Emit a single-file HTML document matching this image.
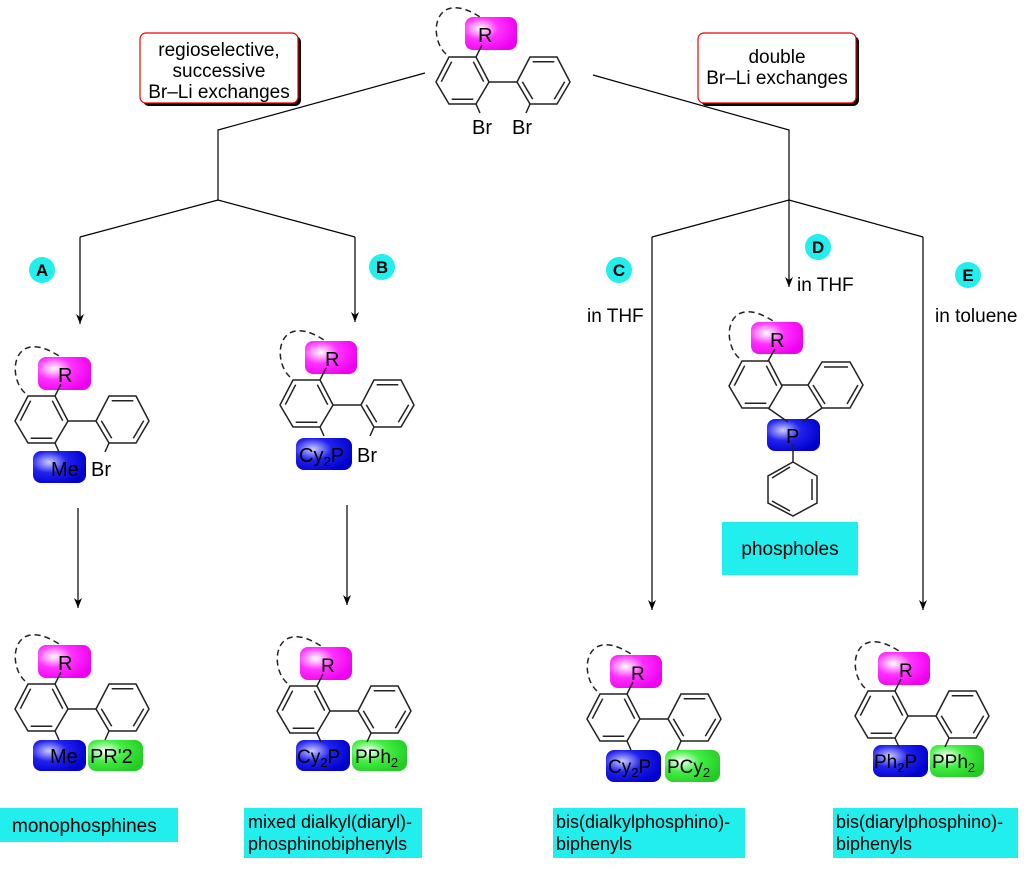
<!DOCTYPE html>
<html><head><meta charset="utf-8"><style>
body{margin:0;background:#fff;}
svg{display:block;font-family:"Liberation Sans",sans-serif;}
</style></head><body>
<svg width="1024" height="870" viewBox="0 0 1024 870" xmlns="http://www.w3.org/2000/svg">
<defs>
<radialGradient id="gm" cx="0.3" cy="0.35" r="0.75"><stop offset="0" stop-color="#ffffff"/><stop offset="0.45" stop-color="#ff33ff"/><stop offset="1" stop-color="#ee00ee"/></radialGradient>
<radialGradient id="gb" cx="0.3" cy="0.35" r="0.75"><stop offset="0" stop-color="#ccccff"/><stop offset="0.45" stop-color="#2222ee"/><stop offset="1" stop-color="#0000cc"/></radialGradient>
<radialGradient id="gg" cx="0.3" cy="0.35" r="0.75"><stop offset="0" stop-color="#ffffff"/><stop offset="0.45" stop-color="#44ee44"/><stop offset="1" stop-color="#22cc22"/></radialGradient>
<marker id="ar" markerWidth="10" markerHeight="8" refX="10" refY="4" orient="auto" markerUnits="userSpaceOnUse" viewBox="0 0 10 8"><path d="M0,0 L10,4 L0,8 L3,4 Z" fill="#000"/></marker>
<g id="bip" fill="none" stroke="#222" stroke-width="1.5">
<polygon points="0,0 27,0 40,25 27,47 0,47 -13,25"/>
<line x1="-7.7" y1="24.7" x2="2.7" y2="4.7"/><line x1="24.3" y1="4.7" x2="34.7" y2="24.7"/><line x1="24.3" y1="42.3" x2="2.7" y2="42.3"/>
<polygon points="68,25 81,0 108,0 121,25 108,47 81,47"/>
<line x1="83.7" y1="4.7" x2="105.3" y2="4.7"/><line x1="115.7" y1="24.7" x2="105.3" y2="42.3"/><line x1="83.7" y1="42.3" x2="73.3" y2="24.7"/>
<line x1="40" y1="25" x2="68" y2="25"/>
<line x1="27" y1="0" x2="33" y2="-12"/>
<line x1="27" y1="47" x2="31" y2="56"/>
<line x1="81" y1="47" x2="77" y2="56"/>
<path d="M-3,-3 C-22,-20 -15,-72 34,-38" stroke-dasharray="6,4"/>
</g>
<g id="ring" fill="none" stroke="#222" stroke-width="1.5">
<polygon points="0,0 27,0 40,25 27,47 0,47 -13,25"/>
<line x1="-7.7" y1="24.7" x2="2.7" y2="4.7"/><line x1="24.3" y1="4.7" x2="34.7" y2="24.7"/><line x1="24.3" y1="42.3" x2="2.7" y2="42.3"/>
</g>
</defs>
<g stroke="#000" stroke-width="1.2" fill="none">
<polyline points="425,73 218,130 218,200"/>
<polyline points="80,237 218,200 355,237"/>
<line x1="80" y1="237" x2="80" y2="324" marker-end="url(#ar)"/>
<line x1="355" y1="237" x2="355" y2="322" marker-end="url(#ar)"/>
<polyline points="593,75 789,130 789,200"/>
<polyline points="652,237 789,200 923,237"/>
<line x1="789" y1="200" x2="789" y2="287" marker-end="url(#ar)"/>
<line x1="652" y1="237" x2="652" y2="610" marker-end="url(#ar)"/>
<line x1="923" y1="237" x2="923" y2="610" marker-end="url(#ar)"/>
<line x1="78" y1="508" x2="78" y2="608" marker-end="url(#ar)"/>
<line x1="347" y1="505" x2="347" y2="605" marker-end="url(#ar)"/>
</g>
<rect x="143" y="36" width="158" height="70" rx="6" fill="#000"/>
<rect x="140" y="33" width="158" height="70" rx="6" fill="#fff" stroke="#e00" stroke-width="1.2"/>
<text x="219" y="56" font-size="19" text-anchor="middle">regioselective,</text>
<text x="219" y="77" font-size="19" text-anchor="middle">successive</text>
<text x="219" y="98" font-size="19" text-anchor="middle">Br–Li exchanges</text>
<rect x="701" y="36" width="158" height="70" rx="6" fill="#000"/>
<rect x="698" y="33" width="158" height="70" rx="6" fill="#fff" stroke="#e00" stroke-width="1.2"/>
<text x="777" y="63" font-size="19" text-anchor="middle">double</text>
<text x="777" y="84" font-size="19" text-anchor="middle">Br–Li exchanges</text>
<g font-size="17" font-weight="bold" text-anchor="middle">
<circle cx="42" cy="270" r="13" fill="#22eeee"/><text x="42" y="276">A</text>
<circle cx="382" cy="267" r="13" fill="#22eeee"/><text x="382" y="273">B</text>
<circle cx="619" cy="270" r="13" fill="#22eeee"/><text x="619" y="276">C</text>
<circle cx="818" cy="247" r="13" fill="#22eeee"/><text x="818" y="253">D</text>
<circle cx="968" cy="275" r="13" fill="#22eeee"/><text x="968" y="281">E</text>
</g>
<g font-size="19">
<text x="587" y="322">in THF</text>
<text x="797" y="291">in THF</text>
<text x="935" y="322">in toluene</text>
</g>
<rect x="465" y="17" width="52" height="33" rx="8" fill="url(#gm)"/>
<use href="#bip" x="449" y="57"/>
<g font-size="20"><text x="478" y="42">R</text><text x="472" y="134">Br</text><text x="512" y="134">Br</text></g>
<rect x="38" y="357" width="53" height="33" rx="8" fill="url(#gm)"/>
<rect x="33" y="451" width="53" height="32" rx="8" fill="url(#gb)"/>
<use href="#bip" x="28" y="396"/>
<g font-size="20"><text x="58" y="382">R</text><text x="51" y="476">Me</text><text x="91" y="476">Br</text></g>
<rect x="305" y="341" width="52" height="33" rx="8" fill="url(#gm)"/>
<rect x="296" y="438" width="56" height="32" rx="8" fill="url(#gb)"/>
<use href="#bip" x="293" y="380"/>
<g font-size="20"><text x="325" y="366">R</text><text x="299" y="462">Cy<tspan font-size="13" dy="4">2</tspan><tspan dy="-4">P</tspan></text><text x="357" y="462">Br</text></g>
<rect x="751" y="322" width="52" height="32" rx="8" fill="url(#gm)"/>
<rect x="767" y="419" width="53" height="32" rx="8" fill="url(#gb)"/>
<g fill="none" stroke="#222" stroke-width="1.5">
<use href="#ring" x="742" y="361"/>
<polygon points="808,385 822,362 850,362 863,385 850,408 822,408"/>
<line x1="824" y1="367" x2="848" y2="367"/><line x1="858" y1="385" x2="847" y2="404"/><line x1="825" y1="404" x2="813" y2="385"/>
<line x1="782" y1="385" x2="808" y2="385"/>
<line x1="768" y1="408" x2="788" y2="422"/><line x1="822" y1="408" x2="802" y2="422"/>
<line x1="768" y1="361" x2="775" y2="349"/>
<line x1="793" y1="444" x2="793" y2="462"/>
<polygon points="793,462 817,476 817,503 793,516 768,503 768,476"/>
<line x1="812" y1="479" x2="812" y2="500"/><line x1="790" y1="511" x2="772" y2="501"/><line x1="772" y1="478" x2="790" y2="467"/>
<path d="M739,358 C720,341 727,289 776,323" stroke-dasharray="6,4"/>
</g>
<g font-size="20"><text x="770" y="347">R</text><text x="786" y="443">P</text></g>
<rect x="722" y="522" width="136" height="53" fill="#22eeee"/>
<text x="790" y="555" font-size="19" text-anchor="middle">phospholes</text>
<rect x="38" y="645" width="53" height="33" rx="8" fill="url(#gm)"/>
<rect x="33" y="740" width="53" height="31" rx="8" fill="url(#gb)"/>
<rect x="88" y="740" width="55" height="31" rx="8" fill="url(#gg)"/>
<use href="#bip" x="28" y="684"/>
<g font-size="20"><text x="58" y="670">R</text><text x="50" y="763">Me</text><text x="90" y="763">PR'2</text></g>
<rect x="300" y="647" width="52" height="33" rx="8" fill="url(#gm)"/>
<rect x="296" y="740" width="54" height="31" rx="8" fill="url(#gb)"/>
<rect x="352" y="740" width="55" height="31" rx="8" fill="url(#gg)"/>
<use href="#bip" x="290" y="686"/>
<g font-size="19"><text x="321" y="672">R</text><text x="297" y="763">Cy<tspan font-size="13" dy="4">2</tspan><tspan dy="-4">P</tspan></text><text x="355" y="763">PPh<tspan font-size="13" dy="4">2</tspan></text></g>
<rect x="610" y="655" width="52" height="33" rx="8" fill="url(#gm)"/>
<rect x="606" y="750" width="55" height="32" rx="8" fill="url(#gb)"/>
<rect x="665" y="750" width="55" height="32" rx="8" fill="url(#gg)"/>
<use href="#bip" x="600" y="694"/>
<g font-size="19"><text x="631" y="680">R</text><text x="608" y="773">Cy<tspan font-size="13" dy="4">2</tspan><tspan dy="-4">P</tspan></text><text x="667" y="773">PCy<tspan font-size="13" dy="4">2</tspan></text></g>
<rect x="878" y="652" width="52" height="33" rx="8" fill="url(#gm)"/>
<rect x="873" y="745" width="55" height="32" rx="8" fill="url(#gb)"/>
<rect x="930" y="745" width="54" height="32" rx="8" fill="url(#gg)"/>
<use href="#bip" x="868" y="691"/>
<g font-size="19"><text x="899" y="677">R</text><text x="874" y="768">Ph<tspan font-size="13" dy="4">2</tspan><tspan dy="-4">P</tspan></text><text x="932" y="768">PPh<tspan font-size="13" dy="4">2</tspan></text></g>
<rect x="0" y="808" width="178" height="34" fill="#22eeee"/>
<text x="12" y="832" font-size="19">monophosphines</text>
<rect x="244" y="808" width="178" height="50" fill="#22eeee"/>
<text x="248" y="828" font-size="18">mixed dialkyl(diaryl)-</text>
<text x="248" y="850" font-size="18">phosphinobiphenyls</text>
<rect x="553" y="808" width="192" height="50" fill="#22eeee"/>
<text x="556" y="828" font-size="18">bis(dialkylphosphino)-</text>
<text x="556" y="850" font-size="18">biphenyls</text>
<rect x="833" y="808" width="185" height="50" fill="#22eeee"/>
<text x="836" y="828" font-size="18">bis(diarylphosphino)-</text>
<text x="836" y="850" font-size="18">biphenyls</text>
</svg>
</body></html>
